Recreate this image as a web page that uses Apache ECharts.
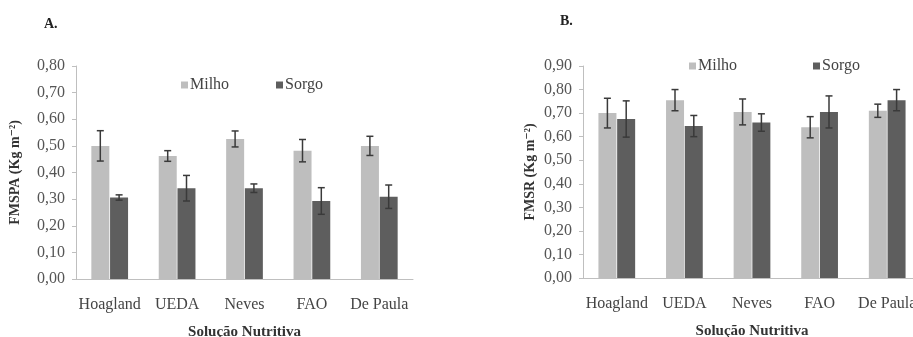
<!DOCTYPE html>
<html>
<head>
<meta charset="utf-8">
<script src="https://cdn.jsdelivr.net/npm/echarts@6/dist/echarts.min.js"></script>
<style>
  html, body { margin: 0; padding: 0; background: #fff; }
  #chart { width: 913px; height: 337px; }
</style>
</head>
<body>
<div id="chart"></div>
<script>
const categories = ["Hoagland", "UEDA", "Neves", "FAO", "De Paula"];

// A: FMSPA
const milhoA = [0.50, 0.462, 0.526, 0.482, 0.50];
const milhoAErr = [0.057, 0.02, 0.03, 0.042, 0.036];
const sorgoA = [0.306, 0.341, 0.341, 0.293, 0.309];
const sorgoAErr = [0.01, 0.048, 0.016, 0.05, 0.044];

// B: FMSR
const milhoB = [0.70, 0.755, 0.705, 0.64, 0.71];
const milhoBErr = [0.063, 0.045, 0.055, 0.045, 0.028];
const sorgoB = [0.675, 0.645, 0.66, 0.705, 0.755];
const sorgoBErr = [0.077, 0.045, 0.037, 0.068, 0.045];

const MILHO = "#bebebe";
const SORGO = "#5e5e5e";
const SERIF = "'Liberation Serif', 'DejaVu Serif', serif";

const chart = echarts.init(document.getElementById("chart"));

function errData(vals, errs) {
  return vals.map((v, i) => [i, v - errs[i], v + errs[i]]);
}

function errSeries(vals, errs, axisIdx, offset) {
  return {
    type: "custom",
    xAxisIndex: axisIdx,
    yAxisIndex: axisIdx,
    z: 5,
    silent: true,
    clip: false,
    data: errData(vals, errs),
    renderItem: (params, api) => {
      const lo = api.coord([api.value(0), api.value(1)]);
      const hi = api.coord([api.value(0), api.value(2)]);
      const x = lo[0] + offset;
      const cap = 3.5;
      const style = { stroke: "#3a3a3a", lineWidth: 1.5 };
      return {
        type: "group",
        children: [
          { type: "line", shape: { x1: x, y1: hi[1], x2: x, y2: lo[1] }, style },
          { type: "line", shape: { x1: x - cap, y1: hi[1], x2: x + cap, y2: hi[1] }, style },
          { type: "line", shape: { x1: x - cap, y1: lo[1], x2: x + cap, y2: lo[1] }, style },
        ],
      };
    },
  };
}

function xAxis(idx) {
  return {
    type: "category",
    gridIndex: idx,
    data: categories,
    name: "Solução Nutritiva",
    nameLocation: "middle",
    nameGap: 46,
    nameTextStyle: { fontFamily: SERIF, fontWeight: "bold", fontSize: 15, color: "#333" },
    axisLine: { lineStyle: { color: "#bfbfbf" } },
    axisTick: { length: 5, lineStyle: { color: "#bfbfbf" } },
    axisLabel: { interval: 0, fontFamily: SERIF, fontSize: 16, color: "#444", margin: 18 },
  };
}

function yAxis(idx, max, name, gap) {
  return {
    type: "value",
    gridIndex: idx,
    min: 0,
    max: max,
    interval: 0.1,
    name: name,
    nameLocation: "middle",
    nameGap: gap,
    nameRotate: 90,
    nameTextStyle: { fontFamily: SERIF, fontWeight: "bold", fontSize: 14, color: "#333" },
    splitLine: { show: false },
    axisLine: { show: true, lineStyle: { color: "#bfbfbf" } },
    axisTick: { show: true, length: 4, lineStyle: { color: "#bfbfbf" } },
    axisLabel: {
      fontFamily: SERIF, fontSize: 16, color: "#555", margin: 11,
      formatter: (v) => v.toFixed(2).replace(".", ","),
    },
  };
}

function legend(name, left, top) {
  return {
    data: [name],
    left: left,
    top: top,
    icon: "rect",
    itemWidth: 7,
    itemHeight: 7,
    itemGap: 4,
    padding: 0,
    selectedMode: false,
    textStyle: { fontFamily: SERIF, fontSize: 16, color: "#444", padding: [0, 0, 0, -3] },
  };
}

const barBase = { type: "bar", barWidth: 18, barGap: "4%" };

const option = {
  animation: false,
  backgroundColor: "#fff",
  title: [
    { text: "A.", left: 39, top: 12, textStyle: { fontFamily: SERIF, fontWeight: "bold", fontSize: 14, color: "#222" } },
    { text: "B.", left: 555, top: 9, textStyle: { fontFamily: SERIF, fontWeight: "bold", fontSize: 14, color: "#222" } },
  ],
  legend: [
    legend("Milho", 181, 77),
    legend("Sorgo", 276, 77),
    legend("Milho", 689, 58),
    legend("Sorgo", 813, 58),
  ],
  grid: [
    { left: 76, top: 66, width: 337, height: 213, outerBoundsMode: "none" },
    { left: 583, top: 66, width: 338, height: 212, outerBoundsMode: "none" },
  ],
  xAxis: [xAxis(0), xAxis(1)],
  yAxis: [
    yAxis(0, 0.8, "FMSPA (Kg m⁻²)", 54),
    yAxis(1, 0.9, "FMSR (Kg m⁻²)", 46),
  ],
  series: [
    { ...barBase, name: "Milho", xAxisIndex: 0, yAxisIndex: 0, data: milhoA, itemStyle: { color: MILHO } },
    { ...barBase, name: "Sorgo", xAxisIndex: 0, yAxisIndex: 0, data: sorgoA, itemStyle: { color: SORGO } },
    { ...barBase, name: "Milho", xAxisIndex: 1, yAxisIndex: 1, data: milhoB, itemStyle: { color: MILHO } },
    { ...barBase, name: "Sorgo", xAxisIndex: 1, yAxisIndex: 1, data: sorgoB, itemStyle: { color: SORGO } },
    errSeries(milhoA, milhoAErr, 0, -9.4),
    errSeries(sorgoA, sorgoAErr, 0, 9.4),
    errSeries(milhoB, milhoBErr, 1, -9.4),
    errSeries(sorgoB, sorgoBErr, 1, 9.4),
  ],
};

chart.setOption(option);
</script>
</body>
</html>
